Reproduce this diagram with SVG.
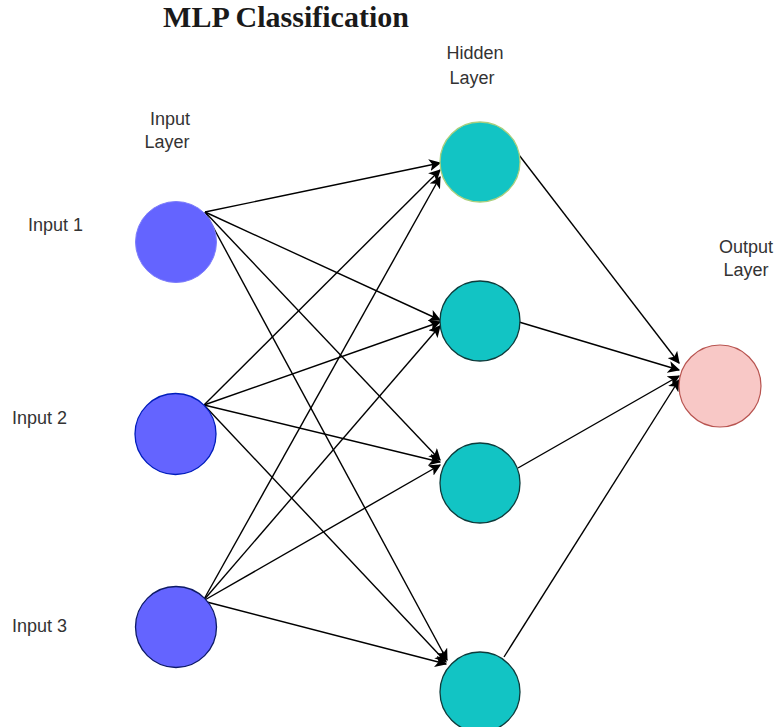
<svg xmlns="http://www.w3.org/2000/svg" width="777" height="727" viewBox="0 0 777 727">
  <style>
    .title { font-family: "Liberation Serif", "Times New Roman", serif; font-weight: bold; font-size: 30px; fill: #1a1a1a; }
    .lbl { font-family: "Liberation Sans", Arial, sans-serif; font-size: 18px; fill: #333; }
    .edge { stroke: #000; stroke-width: 1.4; fill: none; marker-end: url(#arrow); }
    .inp { fill: #6464FF; }
    .hid { fill: #12C4C4; }
  </style>
  <defs>
    <marker id="arrow" viewBox="0 0 10 10" refX="9" refY="5" markerWidth="12" markerHeight="12" markerUnits="userSpaceOnUse" orient="auto">
      <path d="M0,0 L10,5 L0,10 L2.5,5 Z" fill="#000"/>
    </marker>
  </defs>
  <rect width="777" height="727" fill="#fff"/>

  <text class="title" x="286" y="27" text-anchor="middle">MLP Classification</text>

  <!-- layer captions -->
  <g id="caption-input">
    <text class="lbl" x="170" y="125" text-anchor="middle">Input</text>
    <text class="lbl" x="167" y="148" text-anchor="middle">Layer</text>
  </g>
  <g id="caption-hidden">
    <text class="lbl" x="475" y="59" text-anchor="middle">Hidden</text>
    <text class="lbl" x="472" y="84" text-anchor="middle">Layer</text>
  </g>
  <g id="caption-output">
    <text class="lbl" x="746" y="253" text-anchor="middle">Output</text>
    <text class="lbl" x="746" y="276" text-anchor="middle">Layer</text>
  </g>

  <!-- connectors -->
  <g id="connectors">
    <line class="edge" x1="205" y1="212" x2="440" y2="163"/>
    <line class="edge" x1="205" y1="212" x2="440" y2="320"/>
    <line class="edge" x1="205" y1="212" x2="440" y2="460"/>
    <line class="edge" x1="205" y1="212" x2="447" y2="660"/>

    <line class="edge" x1="204" y1="405" x2="440" y2="170"/>
    <line class="edge" x1="204" y1="405" x2="440" y2="322"/>
    <line class="edge" x1="204" y1="405" x2="440" y2="462"/>
    <line class="edge" x1="204" y1="405" x2="446" y2="662"/>

    <line class="edge" x1="203" y1="601" x2="440" y2="177"/>
    <line class="edge" x1="203" y1="601" x2="440" y2="326"/>
    <line class="edge" x1="203" y1="601" x2="440" y2="465"/>
    <line class="edge" x1="203" y1="601" x2="446" y2="664"/>

    <line class="edge" x1="519" y1="155" x2="679" y2="363"/>
    <line class="edge" x1="519" y1="322" x2="679" y2="370"/>
    <line class="edge" x1="518" y1="468" x2="679" y2="376"/>
    <line class="edge" x1="504" y1="657" x2="679" y2="380"/>
  </g>

  <!-- input layer -->
  <g id="input-1">
    <text class="lbl" x="28" y="231">Input 1</text>
    <circle class="inp" cx="176" cy="242" r="40.5" stroke="#7d7dfa" stroke-width="1"/>
  </g>
  <g id="input-2">
    <text class="lbl" x="12" y="424">Input 2</text>
    <circle class="inp" cx="175.5" cy="434" r="40.5" stroke="#001DBC" stroke-width="1.3"/>
  </g>
  <g id="input-3">
    <text class="lbl" x="12" y="632">Input 3</text>
    <circle class="inp" cx="176" cy="627" r="40.5" stroke="#0d1a66" stroke-width="1.3"/>
  </g>

  <!-- hidden layer -->
  <g id="hidden-1">
    <circle class="hid" cx="480" cy="162" r="40" stroke="#a9cf7e" stroke-width="1.3"/>
  </g>
  <g id="hidden-2">
    <circle class="hid" cx="480" cy="321" r="40" stroke="#0d3b3b" stroke-width="1.3"/>
  </g>
  <g id="hidden-3">
    <circle class="hid" cx="480" cy="483" r="40" stroke="#0d3b3b" stroke-width="1.3"/>
  </g>
  <g id="hidden-4">
    <circle class="hid" cx="480" cy="692" r="40" stroke="#0d3b3b" stroke-width="1.3"/>
  </g>

  <!-- output layer -->
  <g id="output-1">
    <circle cx="720" cy="386" r="41" fill="#F8C8C6" stroke="#B85450" stroke-width="1.2"/>
  </g>
</svg>
